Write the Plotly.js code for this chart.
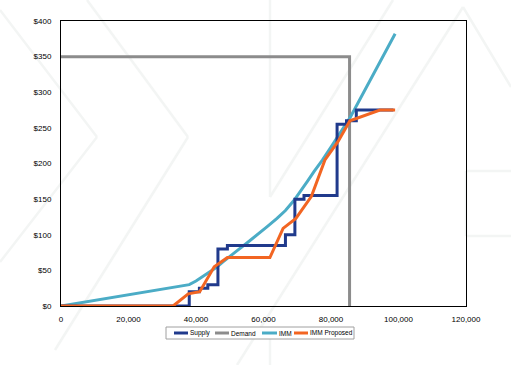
<!DOCTYPE html>
<html>
<head>
<meta charset="utf-8">
<script src="https://cdn.plot.ly/plotly-3.0.1.min.js"></script>
<style>html,body{margin:0;padding:0;background:#fff;}#chart{width:511px;height:365px;}</style>
</head>
<body>
<div id="chart"></div>
<script>
// ---- data ----
var seriesNames = ["Supply", "Demand", "IMM", "IMM Proposed"];

var supplyX = [0, 38000, 41000, 43500, 46500, 49300, 66500, 69300, 72000, 81800, 84600, 87500, 98500];
var supplyY = [0, 20, 25, 30, 80, 85, 100, 150, 155, 255, 260, 275, 275];

var demandX = [0, 85500, 85500];
var demandY = [350, 350, 0];

var immX = [0, 38000, 40000, 42000, 44000, 46000, 48000, 50000, 52000, 55000, 58000, 61000, 64000, 66500, 69000, 71000, 73000, 75000, 77500, 80000, 83000, 85600, 99000];
var immY = [0, 30, 35, 41, 47, 54, 62, 70, 77, 88, 99, 111, 123, 134, 148, 161, 175, 189, 205, 223, 245, 264, 382];

var propX = [0, 33200, 37700, 41100, 45400, 49300, 61900, 65800, 69600, 74200, 78200, 82100, 85600, 94500, 99000];
var propY = [0, 0, 17, 20, 55, 68, 68, 109, 123, 154, 205, 231, 260, 275, 275];

var xTicks = [0, 20000, 40000, 60000, 80000, 100000, 120000];
var yTicks = [0, 50, 100, 150, 200, 250, 300, 350, 400];

// ---- styles ----
var colors = ["#203A8C", "#8C8C8C", "#4BACC6", "#F26522"];
var W = 3;

var traces = [
  {x: demandX, y: demandY, mode: "lines", name: seriesNames[1], line: {color: colors[1], width: W}},
  {x: immX, y: immY, mode: "lines", name: seriesNames[2], line: {color: colors[2], width: W}},
  {x: supplyX, y: supplyY, mode: "lines", name: seriesNames[0], line: {color: colors[0], width: W, shape: "hv"}},
  {x: propX, y: propY, mode: "lines", name: seriesNames[3], line: {color: colors[3], width: W}}
];

// plot area in pixels: x 61..466, y 21..306
var L = 61, R = 466, T = 21, B = 306;
function px(x){ return (x - L) / (R - L); }
function py(y){ return (B - y) / (B - T); }

var wm = "#F3F5F4";
var shapes = [];
function wline(pts){
  for (var i = 0; i < pts.length - 1; i++) {
    shapes.push({type: "line", xref: "paper", yref: "paper", layer: "below",
      x0: px(pts[i][0]), y0: py(pts[i][1]), x1: px(pts[i+1][0]), y1: py(pts[i+1][1]),
      line: {color: wm, width: 2.5}});
  }
}
wline([[0,10],[97,137],[0,262]]);
wline([[87,0],[188,137],[55,350]]);
wline([[270,0],[270,197],[393,0]]);
wline([[270,330],[270,365]]);
wline([[237,365],[463,7],[511,87]]);
wline([[511,171],[466,171],[466,236],[511,236]]);

// legend (custom, compact)
var legTop = 327, legBot = 339, legMid = 333;
shapes.push({type: "rect", xref: "paper", yref: "paper", x0: px(166), x1: px(354), y0: py(legBot), y1: py(legTop),
  line: {color: "#A0A0A0", width: 1}, fillcolor: "#fff"});
var legLineX = [[174, 188], [215, 229], [262, 277], [294, 308]];
var annotations = [];
for (var i = 0; i < seriesNames.length; i++) {
  shapes.push({type: "line", xref: "paper", yref: "paper", x0: px(legLineX[i][0]), x1: px(legLineX[i][1]),
    y0: py(legMid), y1: py(legMid), line: {color: colors[i], width: W}});
  annotations.push({xref: "paper", yref: "paper", x: px(legLineX[i][1]), y: py(legMid), xanchor: "left", yanchor: "middle",
    text: seriesNames[i], showarrow: false, font: {family: "Liberation Sans, Arial, sans-serif", size: 6.5, color: "#000"}});
}

var tickFont = {family: "Liberation Sans, Arial, sans-serif", size: 8, color: "#000"};

var layout = {
  width: 511, height: 365,
  margin: {l: L, r: 511 - R, t: T, b: 365 - B, pad: 0},
  paper_bgcolor: "#fff", plot_bgcolor: "rgba(0,0,0,0)",
  showlegend: false,
  xaxis: {range: [0, 120000], tickvals: xTicks, ticktext: xTicks.map(function(v){ return v.toLocaleString("en-US"); }),
    showgrid: false, zeroline: false, showline: true, linecolor: "#000", linewidth: 1, mirror: true,
    ticks: "", ticklabelstandoff: 5, tickfont: tickFont, fixedrange: true},
  yaxis: {range: [0, 400], tickvals: yTicks, ticktext: yTicks.map(function(v){ return "$" + v; }),
    showgrid: false, zeroline: false, showline: true, linecolor: "#000", linewidth: 1, mirror: true,
    ticks: "", ticklabelstandoff: 7, tickfont: tickFont, fixedrange: true},
  shapes: shapes,
  annotations: annotations
};

Plotly.newPlot("chart", traces, layout, {displayModeBar: false, staticPlot: true});
</script>
</body>
</html>
